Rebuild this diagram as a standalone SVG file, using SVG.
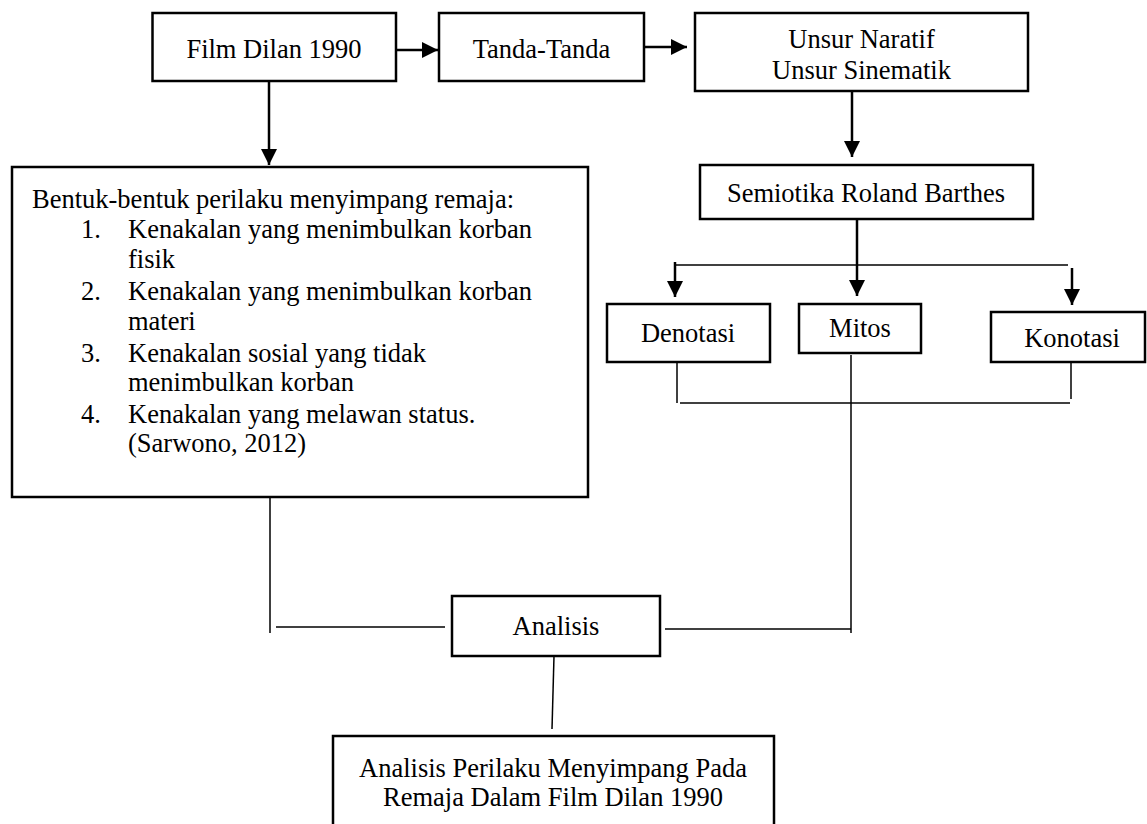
<svg xmlns="http://www.w3.org/2000/svg" width="1147" height="824" viewBox="0 0 1147 824">
<style>
.box{fill:#fff;stroke:#000;stroke-width:2.5}
.t{font-family:"Liberation Serif","Times New Roman",serif;font-size:26.5px;fill:#000}
.c{text-anchor:middle}
.arr{stroke:#000;stroke-width:2.5;fill:none;marker-end:url(#ah)}
.ln{stroke:#000;stroke-width:1.5;fill:none}
</style>
<defs>
<marker id="ah" markerUnits="userSpaceOnUse" markerWidth="16" markerHeight="16" refX="16" refY="8" orient="auto">
<path d="M0,0 L16,8 L0,16 z" fill="#000"/>
</marker>
</defs>
<rect width="1147" height="824" fill="#fff"/>
<g id="connectors">
<line class="arr" x1="396" y1="50" x2="438" y2="50"/>
<line class="arr" x1="644" y1="47" x2="687" y2="47"/>
<line class="arr" x1="269" y1="81" x2="269" y2="165"/>
<line class="arr" x1="852" y1="91" x2="852" y2="157"/>
<line class="arr" x1="857" y1="219" x2="857" y2="296"/>
<line class="arr" x1="675" y1="262" x2="675" y2="297"/>
<line class="arr" x1="1072" y1="268" x2="1072" y2="305"/>
<line class="ln" x1="675" y1="265" x2="1068" y2="265"/>
<line class="ln" x1="677" y1="362" x2="677" y2="403"/>
<line class="ln" x1="680" y1="403" x2="1070" y2="403"/>
<line class="ln" x1="1071" y1="359" x2="1071" y2="399"/>
<line class="ln" x1="851" y1="355" x2="851" y2="633"/>
<line class="ln" x1="665" y1="629" x2="851" y2="629"/>
<line class="ln" x1="270" y1="497" x2="270" y2="633"/>
<line class="ln" x1="276" y1="627" x2="445" y2="627"/>
<line class="ln" x1="554" y1="656" x2="552" y2="729"/>
</g>
<g id="film">
<rect class="box" x="152.5" y="13" width="243.5" height="68"/>
<text class="t c" x="274" y="58">Film Dilan 1990</text>
</g>
<g id="tanda">
<rect class="box" x="439" y="13" width="205" height="68"/>
<text class="t c" x="541.5" y="58">Tanda-Tanda</text>
</g>
<g id="unsur">
<rect class="box" x="695" y="13" width="333" height="78"/>
<text class="t c" x="861.5" y="48">Unsur Naratif</text>
<text class="t c" x="861.5" y="79">Unsur Sinematik</text>
</g>
<g id="semiotika">
<rect class="box" x="700" y="165" width="333" height="54"/>
<text class="t c" x="866" y="202">Semiotika Roland Barthes</text>
</g>
<g id="denotasi">
<rect class="box" x="607" y="304" width="163" height="58"/>
<text class="t c" x="688" y="342">Denotasi</text>
</g>
<g id="mitos">
<rect class="box" x="799" y="304" width="122" height="49"/>
<text class="t c" x="860" y="337">Mitos</text>
</g>
<g id="konotasi">
<rect class="box" x="991" y="312" width="154" height="50"/>
<text class="t c" x="1072" y="347">Konotasi</text>
</g>
<g id="bentuk">
<rect class="box" x="12" y="167" width="576" height="330"/>
<text class="t" x="32" y="208">Bentuk-bentuk perilaku menyimpang remaja:</text>
<text class="t" x="81" y="238">1.</text>
<text class="t" x="128" y="238">Kenakalan yang menimbulkan korban</text>
<text class="t" x="128" y="268">fisik</text>
<text class="t" x="81" y="300">2.</text>
<text class="t" x="128" y="300">Kenakalan yang menimbulkan korban</text>
<text class="t" x="128" y="330">materi</text>
<text class="t" x="81" y="362">3.</text>
<text class="t" x="128" y="362">Kenakalan sosial yang tidak</text>
<text class="t" x="128" y="391">menimbulkan korban</text>
<text class="t" x="81" y="423">4.</text>
<text class="t" x="128" y="423">Kenakalan yang melawan status.</text>
<text class="t" x="128" y="452">(Sarwono, 2012)</text>
</g>
<g id="analisis">
<rect class="box" x="452" y="596" width="208" height="60"/>
<text class="t c" x="556" y="635">Analisis</text>
</g>
<g id="hasil">
<rect class="box" x="333" y="736" width="441" height="100"/>
<text class="t c" x="553" y="777">Analisis Perilaku Menyimpang Pada</text>
<text class="t c" x="553" y="806">Remaja Dalam Film Dilan 1990</text>
</g>
</svg>
